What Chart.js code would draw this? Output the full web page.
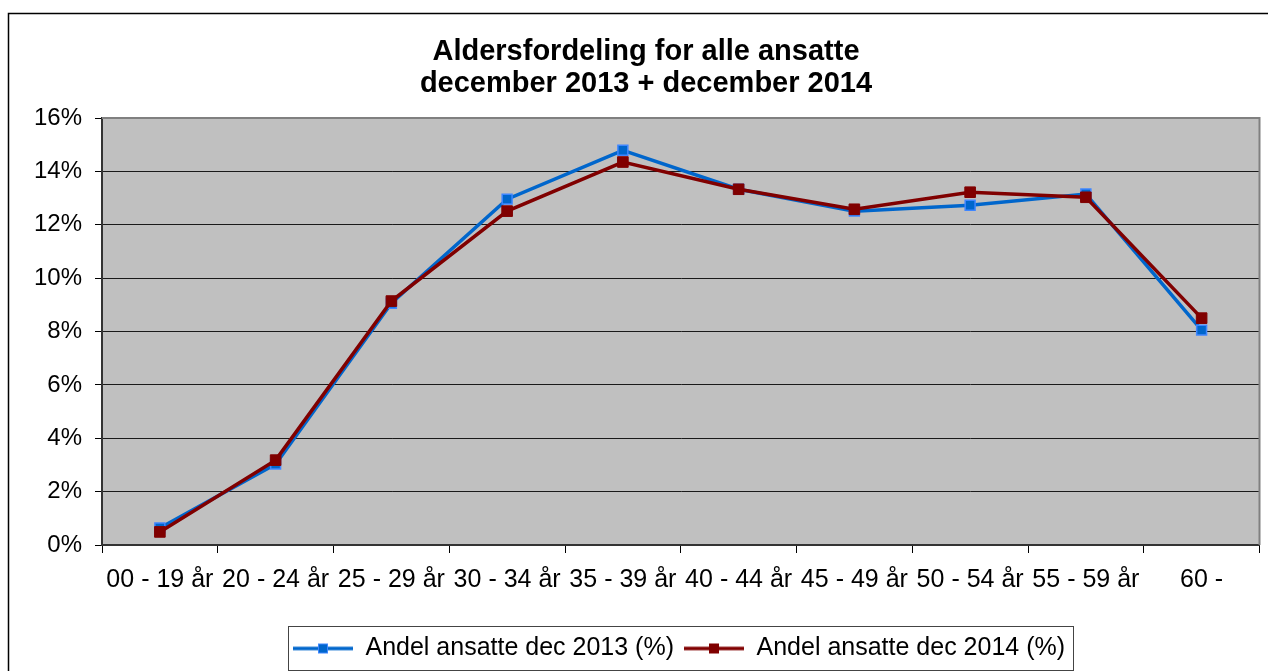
<!DOCTYPE html>
<html>
<head>
  <meta charset="UTF-8" />
  <title>Aldersfordeling for alle ansatte</title>
  <script src="https://cdn.jsdelivr.net/npm/chart.js"></script>
  <style>
    html, body { margin: 0; padding: 0; background: #fff; }
    .wrap { width: 1268px; height: 671px; }
  </style>
</head>
<body>
  <div class="wrap"><canvas id="ageChart" width="1268" height="671"></canvas></div>
  <script>
    // age groups on the x axis
    const ageGroups = ['00 - 19 år', '20 - 24 år', '25 - 29 år', '30 - 34 år', '35 - 39 år',
                       '40 - 44 år', '45 - 49 år', '50 - 54 år', '55 - 59 år', '60 -'];
    // share of employees in percent
    const share2013 = [0.64, 3.03, 9.06, 12.96, 14.79, 13.33, 12.51, 12.73, 13.15, 8.05];
    const share2014 = [0.49, 3.18, 9.14, 12.51, 14.35, 13.33, 12.58, 13.22, 13.03, 8.50];
    const seriesNames = ['Andel ansatte dec 2013 (%)', 'Andel ansatte dec 2014 (%)'];
    const titleLines = ['Aldersfordeling for alle ansatte', 'december 2013 + december 2014'];
    const yMin = 0, yMax = 16, yStep = 2;

    const BLUE = '#0066cc', BLUE_EDGE = '#3f86ff', RED = '#800000';

    Chart.defaults.font.family = "'Liberation Sans', Arial, sans-serif";
    Chart.defaults.color = '#000';

    // little line + square marker for the legend, like the spreadsheet one
    function legendMark(line, fill, edge) {
      const c = document.createElement('canvas');
      c.width = 60; c.height = 14;
      const g = c.getContext('2d');
      g.strokeStyle = line; g.lineWidth = 3.5;
      g.beginPath(); g.moveTo(0, 7); g.lineTo(60, 7); g.stroke();
      g.fillStyle = fill; g.fillRect(25, 2, 10, 10);
      g.strokeStyle = edge; g.lineWidth = 1;
      g.strokeRect(25.5, 2.5, 9, 9);
      return c;
    }
    const marks = [legendMark(BLUE, BLUE, BLUE_EDGE), legendMark(RED, RED, RED)];

    const framePlugin = {
      id: 'frame',
      afterLayout(chart) {
        // nudge title and legend to where the original has them
        chart.titleBlock.left += 15; chart.titleBlock.right += 15;
        chart.legend.left += 48; chart.legend.right += 48;
      },
      beforeDraw(chart) {
        const { ctx, chartArea: a } = chart;
        ctx.save();
        ctx.fillStyle = '#fff';
        ctx.fillRect(0, 0, chart.width, chart.height);
        ctx.fillStyle = '#c0c0c0';
        ctx.fillRect(a.left, a.top, a.right - a.left, a.bottom - a.top);
        ctx.restore();
      },
      beforeDatasetsDraw(chart) {
        const { ctx, chartArea: a } = chart;
        ctx.save();
        ctx.strokeStyle = '#808080'; ctx.lineWidth = 2;
        ctx.beginPath();
        ctx.moveTo(a.left, a.top); ctx.lineTo(a.right, a.top); ctx.lineTo(a.right, a.bottom);
        ctx.stroke();
        ctx.restore();
      },
      afterDraw(chart) {
        const { ctx } = chart;
        ctx.save();
        // outer chart frame
        ctx.strokeStyle = '#000'; ctx.lineWidth = 1.5;
        ctx.beginPath();
        ctx.moveTo(8.5, chart.height); ctx.lineTo(8.5, 13.5); ctx.lineTo(chart.width, 13.5);
        ctx.stroke();
        // legend box
        const boxes = chart.legend.legendHitBoxes;
        if (boxes && boxes.length) {
          const first = boxes[0], last = boxes[boxes.length - 1];
          const x0 = Math.round(first.left) - 4.5;
          const x1 = Math.round(last.left + last.width) + 8.5;
          ctx.strokeStyle = '#444'; ctx.lineWidth = 1;
          ctx.strokeRect(x0, chart.legend.top + 0.5, x1 - x0, chart.legend.bottom - chart.legend.top - 1);
        }
        ctx.restore();
      }
    };

    const ctx = document.getElementById('ageChart').getContext('2d');
    new Chart(ctx, {
      type: 'line',
      data: {
        labels: ageGroups,
        datasets: [{
          label: seriesNames[0],
          data: share2013,
          borderColor: BLUE,
          borderWidth: 3.5,
          backgroundColor: BLUE,
          pointStyle: 'rect',
          pointRadius: 7,
          pointBackgroundColor: BLUE,
          pointBorderColor: BLUE_EDGE,
          pointBorderWidth: 1.5,
          tension: 0,
          order: 1
        }, {
          label: seriesNames[1],
          data: share2014,
          borderColor: RED,
          borderWidth: 3.5,
          backgroundColor: RED,
          pointStyle: 'rect',
          pointRadius: 7.5,
          pointBackgroundColor: RED,
          pointBorderColor: RED,
          pointBorderWidth: 1,
          tension: 0,
          order: 0
        }]
      },
      options: {
        responsive: false,
        animation: false,
        layout: { padding: { left: 0, right: 6, top: 0, bottom: 0 } },
        plugins: {
          title: {
            display: true,
            text: titleLines,
            font: { size: 29, weight: 'bold', lineHeight: 1.1 },
            color: '#000',
            padding: { top: 36, bottom: 18.2 }
          },
          legend: {
            position: 'bottom',
            labels: {
              usePointStyle: true,
              pointStyleWidth: 60,
              padding: 10,
              font: { size: 25 },
              color: '#000',
              generateLabels: () => seriesNames.map((name, i) => ({
                text: name,
                pointStyle: marks[i],
                fillStyle: i ? RED : BLUE,
                strokeStyle: i ? RED : BLUE,
                lineWidth: 0,
                hidden: false,
                datasetIndex: i
              }))
            }
          },
          tooltip: { enabled: false }
        },
        scales: {
          x: {
            offset: true,
            grid: {
              offset: true,
              drawOnChartArea: false,
              drawTicks: true,
              tickLength: 8,
              tickColor: '#000',
              tickWidth: 1
            },
            border: { color: '#333', width: 2 },
            ticks: { autoSkip: false, maxRotation: 0, padding: 12, font: { size: 25 }, color: '#000' },
            afterFit: s => { s.height = 81; }
          },
          y: {
            min: yMin,
            max: yMax,
            grid: { color: '#1a1a1a', lineWidth: 1, tickLength: 7, tickColor: '#000' },
            border: { color: '#333', width: 2 },
            ticks: {
              stepSize: yStep,
              padding: 13,
              font: { size: 24 },
              color: '#000',
              callback: v => v + '%'
            },
            afterFit: s => { s.width = 102; }
          }
        }
      },
      plugins: [framePlugin]
    });
  </script>
</body>
</html>
